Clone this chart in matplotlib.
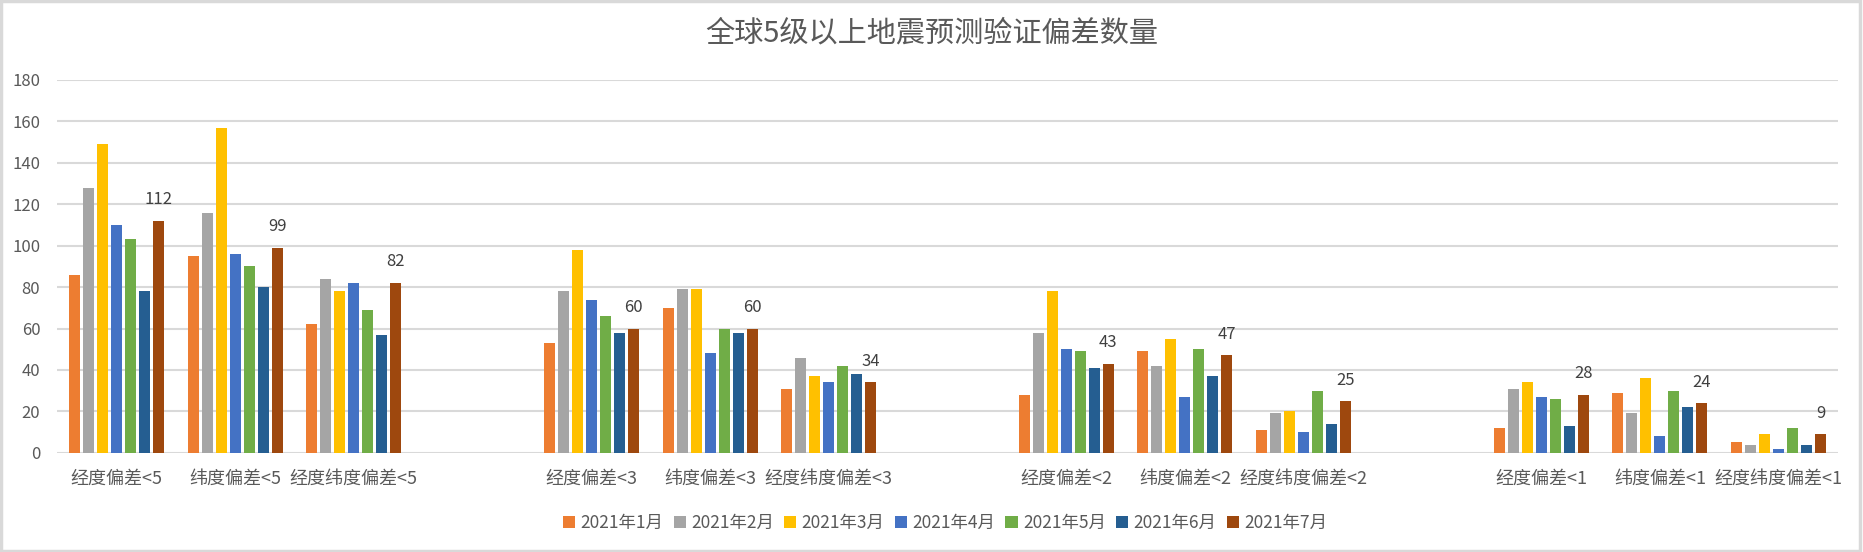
import numpy as np
import matplotlib
matplotlib.use('Agg')
import matplotlib.pyplot as plt
from matplotlib.patches import Rectangle

plt.rcParams['font.family'] = ['Noto Sans CJK SC', 'DejaVu Sans']

# categories (empty strings are the gaps between threshold groups)
categories = ['经度偏差<5', '纬度偏差<5', '经度纬度偏差<5', '',
              '经度偏差<3', '纬度偏差<3', '经度纬度偏差<3', '',
              '经度偏差<2', '纬度偏差<2', '经度纬度偏差<2', '',
              '经度偏差<1', '纬度偏差<1', '经度纬度偏差<1']

months = ['2021年1月', '2021年2月', '2021年3月', '2021年4月',
          '2021年5月', '2021年6月', '2021年7月']

jan = [86, 95, 62, None, 53, 70, 31, None, 28, 49, 11, None, 12, 29, 5]
feb = [128, 116, 84, None, 78, 79, 46, None, 58, 42, 19, None, 31, 19, 4]
mar = [149, 157, 78, None, 98, 79, 37, None, 78, 55, 20, None, 34, 36, 9]
apr = [110, 96, 82, None, 74, 48, 34, None, 50, 27, 10, None, 27, 8, 2]
may = [103, 90, 69, None, 66, 60, 42, None, 49, 50, 30, None, 26, 30, 12]
jun = [78, 80, 57, None, 58, 58, 38, None, 41, 37, 14, None, 13, 22, 4]
jul = [112, 99, 82, None, 60, 60, 34, None, 43, 47, 25, None, 28, 24, 9]

series = [jan, feb, mar, apr, may, jun, jul]
colors = ['#ED7D31', '#A5A5A5', '#FFC000', '#4472C4',
          '#70AD47', '#255E91', '#9E480E']

fig = plt.figure(figsize=(18.63, 5.52), dpi=100)
ax = fig.add_axes([57 / 1863, 1 - 452.8 / 552, (1838 - 57) / 1863, (452.8 - 80) / 552])

x = np.arange(len(categories))
step = 14 / 118.8
width = 11 / 118.8
for i, (vals, c, m) in enumerate(zip(series, colors, months)):
    v = np.array([np.nan if a is None else a for a in vals], dtype=float)
    ax.bar(x + (i - 3) * step, v, width=width, color=c, label=m, zorder=3)
    # only the last series carries data labels
    if i == len(series) - 1:
        for xi, yi in zip(x + (i - 3) * step, v):
            if not np.isnan(yi):
                ax.annotate(f'{int(yi)}', (xi, yi), xytext=(0, 9), textcoords='offset points',
                            ha='center', va='bottom', fontsize=12, color='#404040')

ax.set_xlim(-0.5, len(categories) - 0.5)
ax.set_ylim(0, 180)
ax.set_yticks(np.arange(0, 181, 20))
ax.set_xticks(x)
ax.set_xticklabels(categories)
ax.tick_params(axis='both', length=0, colors='#595959', labelsize=12)
ax.tick_params(axis='x', pad=12, labelsize=13)
ax.tick_params(axis='y', pad=12)
ax.grid(axis='y', color='#D9D9D9', linewidth=1.5, zorder=0)
for s in ax.spines.values():
    s.set_visible(False)

fig.text(0.5, 1 - 33 / 552, '全球5级以上地震预测验证偏差数量', ha='center', va='center',
         fontsize=21, color='#595959')

fig.legend(loc='center', bbox_to_anchor=(945 / 1863, 1 - 523 / 552), ncol=7, frameon=False,
           fontsize=12.5, handlelength=0.7, handleheight=0.7, handletextpad=0.3,
           columnspacing=0.6, labelcolor='#595959')

fig.patches.append(Rectangle((0.0005, 0.001), 0.998, 0.997, transform=fig.transFigure,
                             fill=False, edgecolor='#D9D9D9', linewidth=2.5))

fig.savefig('out.png', dpi=100)
